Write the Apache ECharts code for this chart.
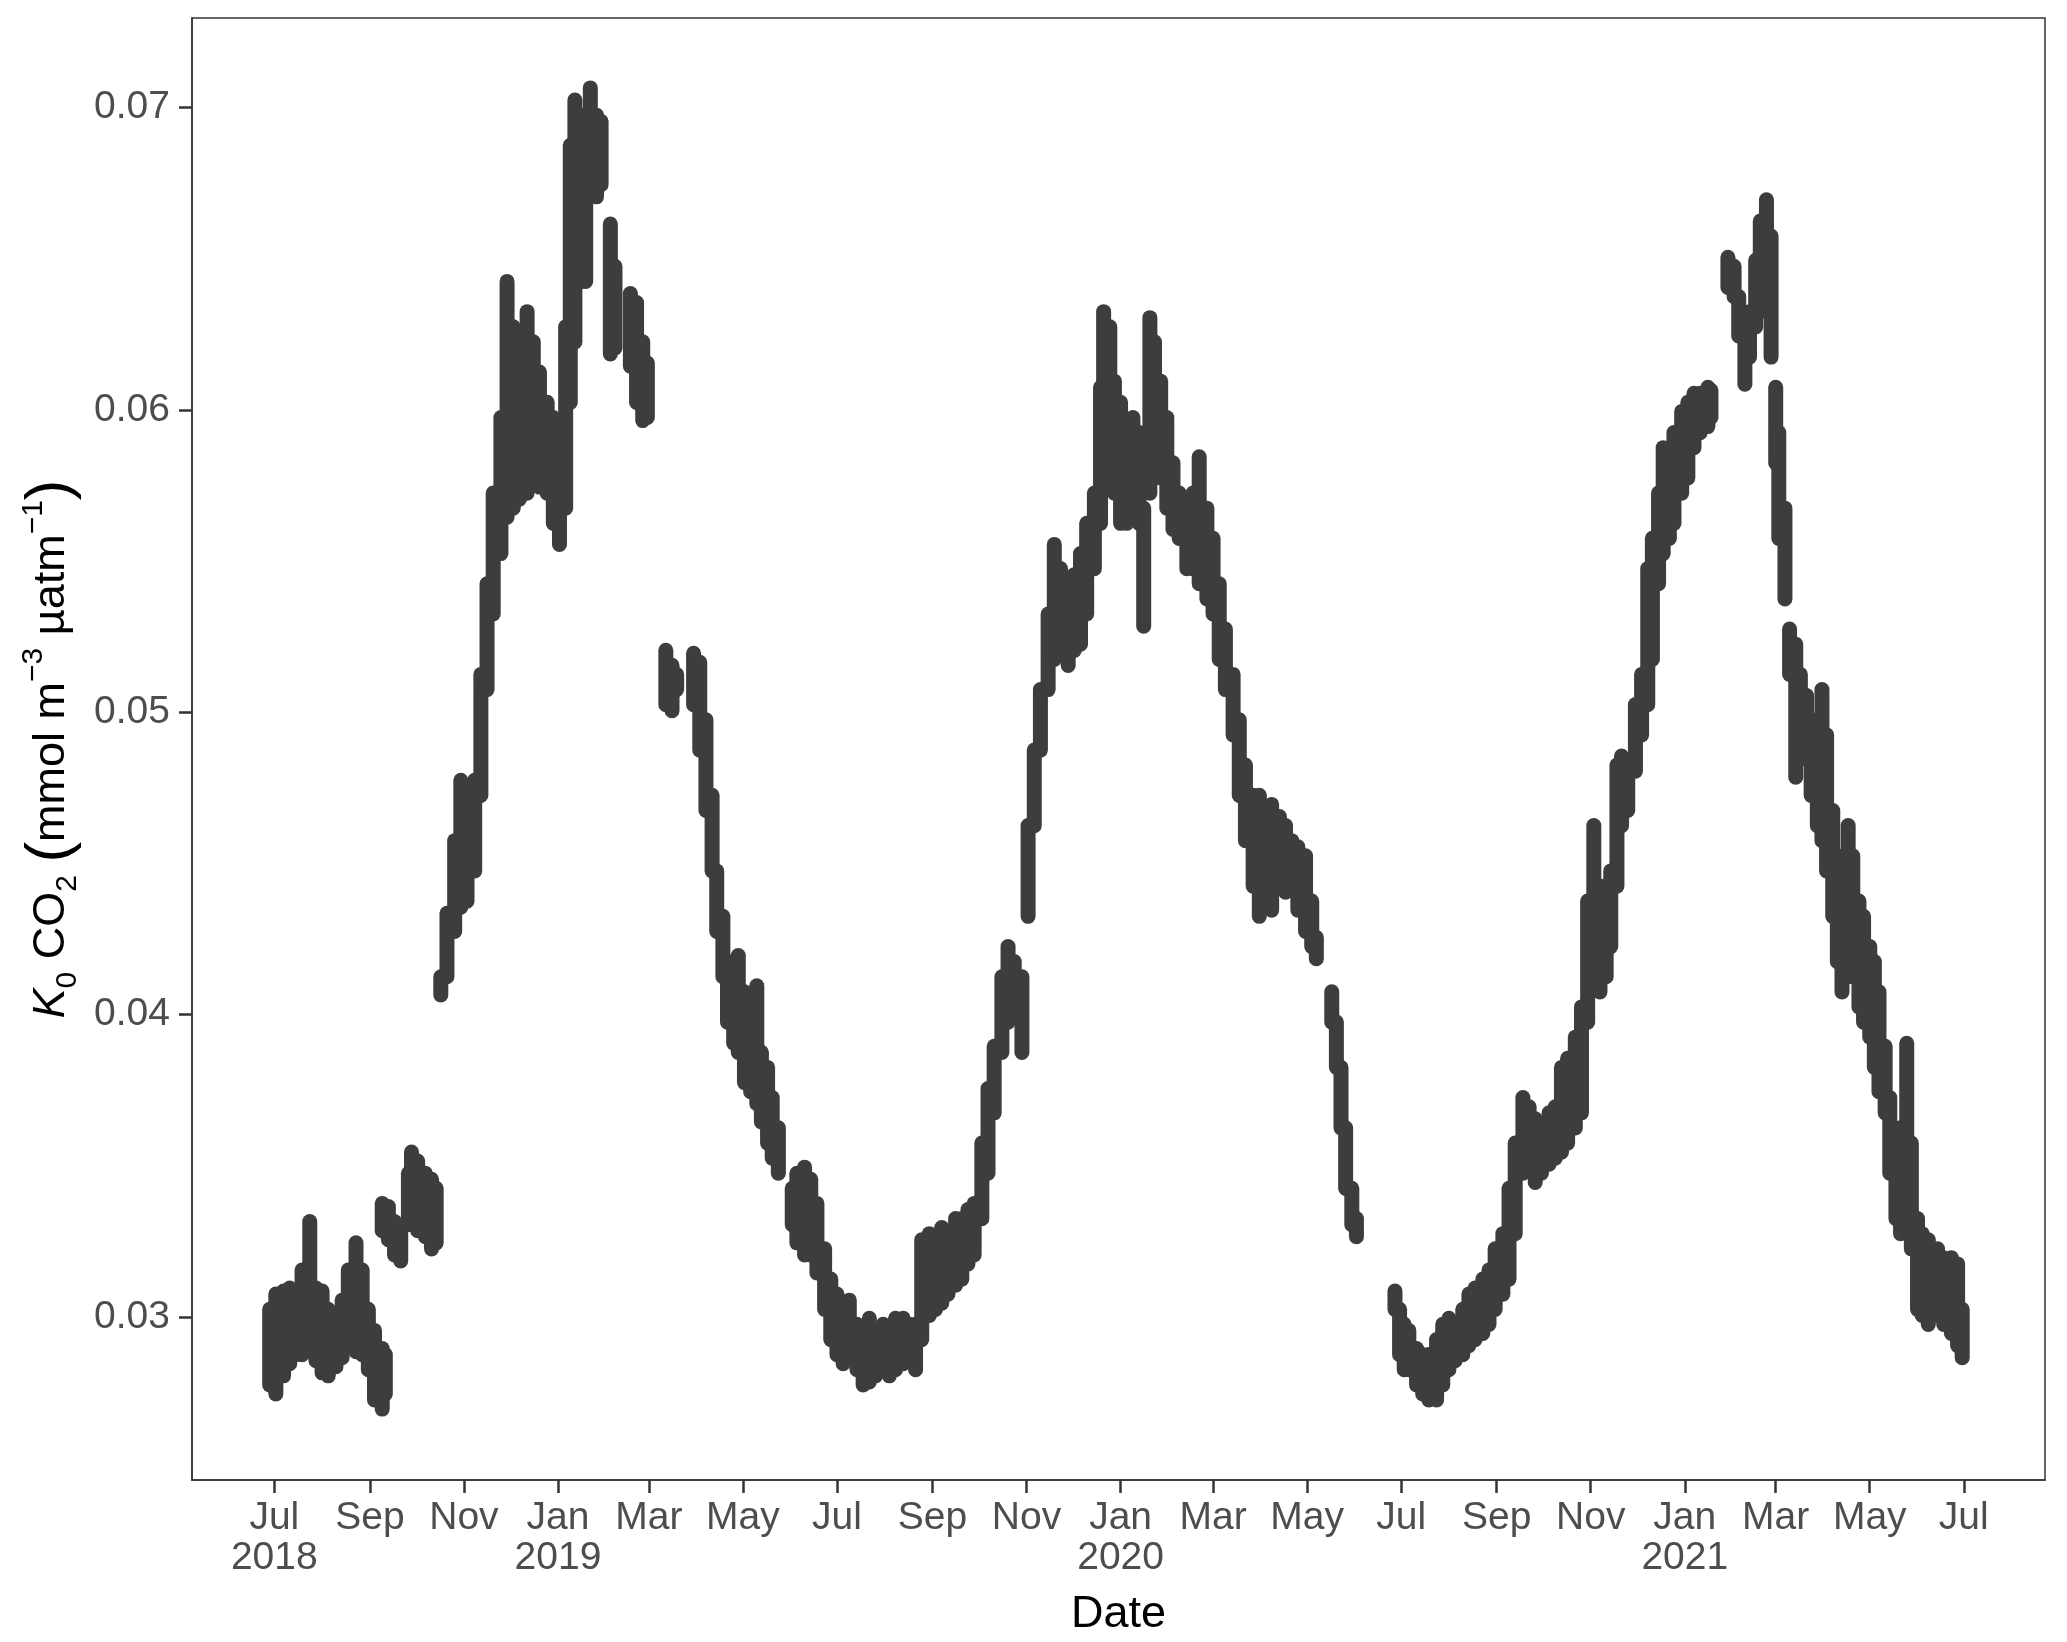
<!DOCTYPE html>
<html style="height: 100%">
<head>
  <meta charset="utf-8">
  <script src="https://cdn.jsdelivr.net/npm/echarts@6/dist/echarts.min.js"></script>
</head>
<body style="height: 100%; margin: 0; background: #fff">
  <div id="container" style="width: 2067px; height: 1642px"></div>
<script>
// each row: [date, lowest K0, highest K0] seen around that date
var obs2018 = [
  ['2018-06-28', 0.0275, 0.0305], ['2018-07-02', 0.0272, 0.0310], ['2018-07-07', 0.0278, 0.0311],
  ['2018-07-11', 0.0282, 0.0312], ['2018-07-15', 0.0285, 0.0305], ['2018-07-19', 0.0285, 0.0318],
  ['2018-07-24', 0.0288, 0.0334], ['2018-07-28', 0.0283, 0.0312], ['2018-08-01', 0.0279, 0.0311],
  ['2018-08-05', 0.0278, 0.0305], ['2018-08-10', 0.0281, 0.0300], ['2018-08-14', 0.0284, 0.0308],
  ['2018-08-18', 0.0288, 0.0318], ['2018-08-23', 0.0286, 0.0327], ['2018-08-27', 0.0285, 0.0318],
  ['2018-08-31', 0.0280, 0.0305], ['2018-09-04', 0.0270, 0.0298], ['2018-09-09', 0.0267, 0.0292],
  ['2018-09-11', 0.0272, 0.0290],
  ['2018-09-09', 0.0326, 0.0340], ['2018-09-13', 0.0323, 0.0339], ['2018-09-17', 0.0318, 0.0334],
  ['2018-09-21', 0.0316, 0.0330], ['2018-09-26', 0.0328, 0.0350], ['2018-09-28', 0.0330, 0.0357],
  ['2018-10-02', 0.0326, 0.0354], ['2018-10-07', 0.0324, 0.0350], ['2018-10-11', 0.0320, 0.0348],
  ['2018-10-14', 0.0322, 0.0345],
  ['2018-10-17', 0.0404, 0.0415], ['2018-10-21', 0.0410, 0.0436], ['2018-10-26', 0.0425, 0.0460],
  ['2018-10-30', 0.0433, 0.0480], ['2018-11-03', 0.0435, 0.0470], ['2018-11-08', 0.0445, 0.0480],
  ['2018-11-12', 0.0470, 0.0515], ['2018-11-16', 0.0505, 0.0545], ['2018-11-20', 0.0530, 0.0575],
  ['2018-11-25', 0.0550, 0.0600], ['2018-11-29', 0.0562, 0.0645], ['2018-12-03', 0.0565, 0.0630],
  ['2018-12-07', 0.0568, 0.0620], ['2018-12-12', 0.0570, 0.0635], ['2018-12-16', 0.0575, 0.0625],
  ['2018-12-20', 0.0572, 0.0615], ['2018-12-25', 0.0570, 0.0605], ['2018-12-29', 0.0560, 0.0600]
];

var obs2019 = [
  ['2019-01-02', 0.0553, 0.0595], ['2019-01-06', 0.0565, 0.0630], ['2019-01-09', 0.0600, 0.0690],
  ['2019-01-12', 0.0620, 0.0705], ['2019-01-16', 0.0640, 0.0700], ['2019-01-19', 0.0640, 0.0680],
  ['2019-01-22', 0.0670, 0.0709], ['2019-01-26', 0.0668, 0.0700], ['2019-01-29', 0.0672, 0.0698],
  ['2019-02-04', 0.0616, 0.0664], ['2019-02-07', 0.0618, 0.0650],
  ['2019-02-17', 0.0612, 0.0641], ['2019-02-21', 0.0600, 0.0638], ['2019-02-25', 0.0594, 0.0625],
  ['2019-02-28', 0.0595, 0.0618],
  ['2019-03-12', 0.0500, 0.0523], ['2019-03-16', 0.0498, 0.0518], ['2019-03-19', 0.0505, 0.0515],
  ['2019-03-30', 0.0500, 0.0522], ['2019-04-03', 0.0485, 0.0519], ['2019-04-07', 0.0465, 0.0500],
  ['2019-04-11', 0.0445, 0.0475], ['2019-04-14', 0.0425, 0.0450], ['2019-04-18', 0.0410, 0.0435],
  ['2019-04-21', 0.0395, 0.0420], ['2019-04-25', 0.0388, 0.0410], ['2019-04-28', 0.0385, 0.0422],
  ['2019-05-02', 0.0375, 0.0410], ['2019-05-06', 0.0372, 0.0400], ['2019-05-10', 0.0368, 0.0412],
  ['2019-05-13', 0.0362, 0.0390], ['2019-05-17', 0.0355, 0.0385], ['2019-05-20', 0.0350, 0.0375],
  ['2019-05-24', 0.0345, 0.0365],
  ['2019-06-02', 0.0328, 0.0345], ['2019-06-05', 0.0322, 0.0350], ['2019-06-10', 0.0318, 0.0352],
  ['2019-06-14', 0.0318, 0.0348], ['2019-06-18', 0.0312, 0.0340], ['2019-06-23', 0.0300, 0.0325],
  ['2019-06-27', 0.0290, 0.0315], ['2019-07-01', 0.0285, 0.0310], ['2019-07-05', 0.0282, 0.0305],
  ['2019-07-09', 0.0285, 0.0308], ['2019-07-14', 0.0280, 0.0300], ['2019-07-18', 0.0275, 0.0298],
  ['2019-07-22', 0.0276, 0.0302], ['2019-07-26', 0.0278, 0.0295], ['2019-07-31', 0.0280, 0.0300],
  ['2019-08-04', 0.0278, 0.0298], ['2019-08-08', 0.0280, 0.0302], ['2019-08-13', 0.0282, 0.0302],
  ['2019-08-17', 0.0285, 0.0300], ['2019-08-21', 0.0280, 0.0300], ['2019-08-25', 0.0290, 0.0328],
  ['2019-08-30', 0.0298, 0.0330], ['2019-09-03', 0.0300, 0.0325], ['2019-09-07', 0.0302, 0.0332],
  ['2019-09-11', 0.0305, 0.0330], ['2019-09-16', 0.0308, 0.0335], ['2019-09-20', 0.0310, 0.0335],
  ['2019-09-24', 0.0315, 0.0338], ['2019-09-28', 0.0318, 0.0340], ['2019-10-03', 0.0330, 0.0360],
  ['2019-10-07', 0.0345, 0.0378], ['2019-10-11', 0.0365, 0.0392], ['2019-10-16', 0.0385, 0.0415],
  ['2019-10-20', 0.0395, 0.0425], ['2019-10-24', 0.0398, 0.0420], ['2019-10-29', 0.0385, 0.0415],
  ['2019-11-02', 0.0430, 0.0465], ['2019-11-06', 0.0460, 0.0490], ['2019-11-10', 0.0485, 0.0510],
  ['2019-11-15', 0.0505, 0.0535], ['2019-11-19', 0.0515, 0.0558], ['2019-11-23', 0.0518, 0.0550],
  ['2019-11-28', 0.0513, 0.0545], ['2019-12-02', 0.0518, 0.0548], ['2019-12-06', 0.0520, 0.0555],
  ['2019-12-10', 0.0530, 0.0565], ['2019-12-15', 0.0545, 0.0575], ['2019-12-19', 0.0560, 0.0610],
  ['2019-12-21', 0.0575, 0.0635], ['2019-12-25', 0.0580, 0.0630], ['2019-12-28', 0.0570, 0.0612]
];

var obs2020 = [
  ['2020-01-01', 0.0560, 0.0605], ['2020-01-05', 0.0560, 0.0590], ['2020-01-09', 0.0570, 0.0600],
  ['2020-01-13', 0.0560, 0.0595], ['2020-01-16', 0.0526, 0.0570], ['2020-01-20', 0.0570, 0.0633],
  ['2020-01-23', 0.0585, 0.0625], ['2020-01-27', 0.0575, 0.0612], ['2020-01-31', 0.0565, 0.0600],
  ['2020-02-04', 0.0558, 0.0585], ['2020-02-08', 0.0555, 0.0575], ['2020-02-13', 0.0545, 0.0570],
  ['2020-02-17', 0.0545, 0.0575], ['2020-02-21', 0.0540, 0.0587], ['2020-02-26', 0.0535, 0.0570],
  ['2020-03-01', 0.0530, 0.0560], ['2020-03-05', 0.0515, 0.0545], ['2020-03-09', 0.0505, 0.0530],
  ['2020-03-14', 0.0490, 0.0515], ['2020-03-18', 0.0470, 0.0500], ['2020-03-22', 0.0455, 0.0485],
  ['2020-03-27', 0.0440, 0.0475], ['2020-03-31', 0.0430, 0.0475], ['2020-04-04', 0.0435, 0.0470],
  ['2020-04-08', 0.0432, 0.0472], ['2020-04-13', 0.0440, 0.0468], ['2020-04-17', 0.0438, 0.0465],
  ['2020-04-21', 0.0440, 0.0460], ['2020-04-25', 0.0432, 0.0458], ['2020-04-30', 0.0425, 0.0455],
  ['2020-05-04', 0.0420, 0.0440], ['2020-05-07', 0.0416, 0.0428],
  ['2020-05-17', 0.0395, 0.0410], ['2020-05-20', 0.0380, 0.0400], ['2020-05-23', 0.0360, 0.0385],
  ['2020-05-26', 0.0340, 0.0365], ['2020-05-30', 0.0328, 0.0345], ['2020-06-02', 0.0324, 0.0335],
  ['2020-06-27', 0.0300, 0.0311], ['2020-06-30', 0.0285, 0.0305], ['2020-07-03', 0.0280, 0.0300],
  ['2020-07-06', 0.0280, 0.0298], ['2020-07-11', 0.0275, 0.0292], ['2020-07-15', 0.0272, 0.0290],
  ['2020-07-19', 0.0270, 0.0290], ['2020-07-24', 0.0270, 0.0295], ['2020-07-28', 0.0275, 0.0300],
  ['2020-08-01', 0.0280, 0.0302], ['2020-08-05', 0.0283, 0.0300], ['2020-08-10', 0.0285, 0.0305],
  ['2020-08-14', 0.0288, 0.0310], ['2020-08-18', 0.0290, 0.0312], ['2020-08-23', 0.0292, 0.0315],
  ['2020-08-27', 0.0295, 0.0318], ['2020-08-31', 0.0300, 0.0325], ['2020-09-05', 0.0305, 0.0330],
  ['2020-09-09', 0.0310, 0.0345], ['2020-09-13', 0.0325, 0.0360], ['2020-09-18', 0.0345, 0.0375],
  ['2020-09-22', 0.0350, 0.0372], ['2020-09-26', 0.0342, 0.0368], ['2020-09-30', 0.0345, 0.0365],
  ['2020-10-05', 0.0348, 0.0370], ['2020-10-09', 0.0350, 0.0372], ['2020-10-13', 0.0352, 0.0385],
  ['2020-10-17', 0.0355, 0.0388], ['2020-10-22', 0.0360, 0.0395], ['2020-10-26', 0.0365, 0.0405],
  ['2020-10-30', 0.0395, 0.0440], ['2020-11-03', 0.0410, 0.0465], ['2020-11-07', 0.0405, 0.0445],
  ['2020-11-11', 0.0410, 0.0440], ['2020-11-14', 0.0420, 0.0450], ['2020-11-18', 0.0440, 0.0485],
  ['2020-11-21', 0.0460, 0.0488], ['2020-11-25', 0.0465, 0.0485], ['2020-11-30', 0.0478, 0.0505],
  ['2020-12-04', 0.0490, 0.0515], ['2020-12-08', 0.0500, 0.0550], ['2020-12-11', 0.0515, 0.0560],
  ['2020-12-15', 0.0540, 0.0575], ['2020-12-18', 0.0550, 0.0590], ['2020-12-22', 0.0555, 0.0585],
  ['2020-12-25', 0.0560, 0.0595], ['2020-12-30', 0.0570, 0.0602]
];

var obs2021 = [
  ['2021-01-03', 0.0575, 0.0605], ['2021-01-07', 0.0585, 0.0608], ['2021-01-11', 0.0590, 0.0608],
  ['2021-01-16', 0.0592, 0.0610], ['2021-01-18', 0.0595, 0.0609],
  ['2021-01-29', 0.0638, 0.0653], ['2021-02-02', 0.0635, 0.0650], ['2021-02-05', 0.0622, 0.0640],
  ['2021-02-09', 0.0606, 0.0632], ['2021-02-12', 0.0615, 0.0635], ['2021-02-16', 0.0625, 0.0652],
  ['2021-02-19', 0.0630, 0.0665], ['2021-02-23', 0.0635, 0.0672], ['2021-02-26', 0.0615, 0.0660],
  ['2021-03-01', 0.0580, 0.0610], ['2021-03-03', 0.0555, 0.0595], ['2021-03-07', 0.0535, 0.0570],
  ['2021-03-10', 0.0510, 0.0530], ['2021-03-14', 0.0476, 0.0525], ['2021-03-17', 0.0485, 0.0515],
  ['2021-03-21', 0.0482, 0.0508], ['2021-03-24', 0.0470, 0.0500], ['2021-03-28', 0.0460, 0.0500],
  ['2021-03-31', 0.0455, 0.0510], ['2021-04-03', 0.0445, 0.0495], ['2021-04-07', 0.0430, 0.0470],
  ['2021-04-10', 0.0415, 0.0455], ['2021-04-13', 0.0405, 0.0445], ['2021-04-17', 0.0410, 0.0465],
  ['2021-04-20', 0.0410, 0.0455], ['2021-04-24', 0.0400, 0.0440], ['2021-04-27', 0.0395, 0.0435],
  ['2021-05-01', 0.0390, 0.0425], ['2021-05-04', 0.0380, 0.0420], ['2021-05-07', 0.0372, 0.0410],
  ['2021-05-11', 0.0365, 0.0392], ['2021-05-14', 0.0345, 0.0375], ['2021-05-18', 0.0330, 0.0360],
  ['2021-05-21', 0.0325, 0.0365], ['2021-05-25', 0.0330, 0.0393], ['2021-05-28', 0.0320, 0.0360],
  ['2021-06-01', 0.0300, 0.0335], ['2021-06-04', 0.0298, 0.0330], ['2021-06-08', 0.0295, 0.0328],
  ['2021-06-11', 0.0300, 0.0325], ['2021-06-14', 0.0298, 0.0325], ['2021-06-18', 0.0295, 0.0322],
  ['2021-06-23', 0.0292, 0.0322], ['2021-06-27', 0.0288, 0.0320], ['2021-06-30', 0.0284, 0.0305]
];

var tickDates = ['2018-07-01', '2018-09-01', '2018-11-01', '2019-01-01', '2019-03-01', '2019-05-01',
  '2019-07-01', '2019-09-01', '2019-11-01', '2020-01-01', '2020-03-01', '2020-05-01',
  '2020-07-01', '2020-09-01', '2020-11-01', '2021-01-01', '2021-03-01', '2021-05-01', '2021-07-01'];
var tickLabels = ['Jul\n2018', 'Sep', 'Nov', 'Jan\n2019', 'Mar', 'May',
  'Jul', 'Sep', 'Nov', 'Jan\n2020', 'Mar', 'May',
  'Jul', 'Sep', 'Nov', 'Jan\n2021', 'Mar', 'May', 'Jul'];
var yTicks = [0.03, 0.04, 0.05, 0.06, 0.07];

function toTime(s) {
  var p = s.split('-');
  return Date.UTC(+p[0], +p[1] - 1, +p[2]);
}

var tickTimes = tickDates.map(toTime);
var labelOf = {};
tickTimes.forEach(function (t, i) { labelOf[t] = tickLabels[i]; });

var allObs = obs2018.concat(obs2019, obs2020, obs2021).map(function (r) {
  return [toTime(r[0]), r[1], r[2]];
});

var dom = document.getElementById('container');
var myChart = echarts.init(dom, null, { renderer: 'canvas' });
var font = '"Liberation Sans", Arial, Helvetica, sans-serif';
var dotColor = '#3d3d3d';
var DAY = 24 * 3600e3;

var option = {
  animation: false,
  backgroundColor: '#fff',
  grid: {
    left: 192, right: 22, top: 18, bottom: 162,
    outerBoundsMode: 'none',
    containLabel: false,
    show: true, borderColor: '#333', borderWidth: 1.5, backgroundColor: 'transparent'
  },
  xAxis: {
    type: 'value',
    min: toTime('2018-07-01') - 53.4 * DAY,
    max: toTime('2018-07-01') + 1148.7 * DAY,
    name: 'Date',
    nameLocation: 'middle',
    nameGap: 112,
    nameTextStyle: { color: '#000', fontSize: 45, fontFamily: font },
    axisLine: { show: true, onZero: false, lineStyle: { color: '#333', width: 1.5 } },
    axisTick: { show: true, length: 13, customValues: tickTimes, lineStyle: { color: '#333', width: 2.5 } },
    axisLabel: {
      customValues: tickTimes,
      color: '#4d4d4d', fontSize: 39, fontFamily: font, lineHeight: 40, margin: 18,
      hideOverlap: false,
      formatter: function (v) { return labelOf[v] || ''; }
    },
    splitLine: { show: false }
  },
  yAxis: {
    type: 'value',
    min: 0.024603,
    max: 0.072965,
    name: '{i|K}{sub|0}{n| CO}{sub|2}{n| }{p|(}{n|mmol m}{sup|\u22123}{n| \u00b5atm}{sup|\u22121}{p|)}',
    nameLocation: 'middle',
    nameRotate: 90,
    nameGap: 106,
    nameTextStyle: {
      color: '#000', fontSize: 45, fontFamily: font,
      rich: {
        n: { fontSize: 45, fontFamily: font, color: '#000', lineHeight: 64, verticalAlign: 'middle' },
        i: { fontSize: 45, fontFamily: font, color: '#000', fontStyle: 'italic', lineHeight: 64, verticalAlign: 'middle' },
        sub: { fontSize: 30, fontFamily: font, color: '#000', lineHeight: 34, verticalAlign: 'bottom' },
        sup: { fontSize: 30, fontFamily: font, color: '#000', lineHeight: 34, verticalAlign: 'top' },
        p: { fontSize: 62, fontFamily: font, color: '#000', lineHeight: 64, verticalAlign: 'middle' }
      }
    },
    axisLine: { show: true, onZero: false, lineStyle: { color: '#333', width: 1.5 } },
    axisTick: { show: true, length: 13, customValues: yTicks, lineStyle: { color: '#333', width: 2.5 } },
    axisLabel: {
      customValues: yTicks,
      color: '#4d4d4d', fontSize: 39, fontFamily: font, margin: 22,
      formatter: function (v) { return v.toFixed(2); }
    },
    splitLine: { show: false }
  },
  series: [{
    type: 'custom',
    name: 'K0 CO2',
    data: allObs,
    encode: { x: 0, y: [1, 2] },
    renderItem: function (params, api) {
      var top = api.coord([api.value(0), api.value(2)]);
      var bot = api.coord([api.value(0), api.value(1)]);
      var w = 15;
      var h = Math.max(bot[1] - top[1], w);
      return {
        type: 'rect',
        shape: { x: top[0] - w / 2, y: bot[1] - h, width: w, height: h, r: w / 2 },
        style: { fill: dotColor }
      };
    }
  }]
};

if (option && typeof option === 'object') {
  myChart.setOption(option);
}
</script>
</body>
</html>
